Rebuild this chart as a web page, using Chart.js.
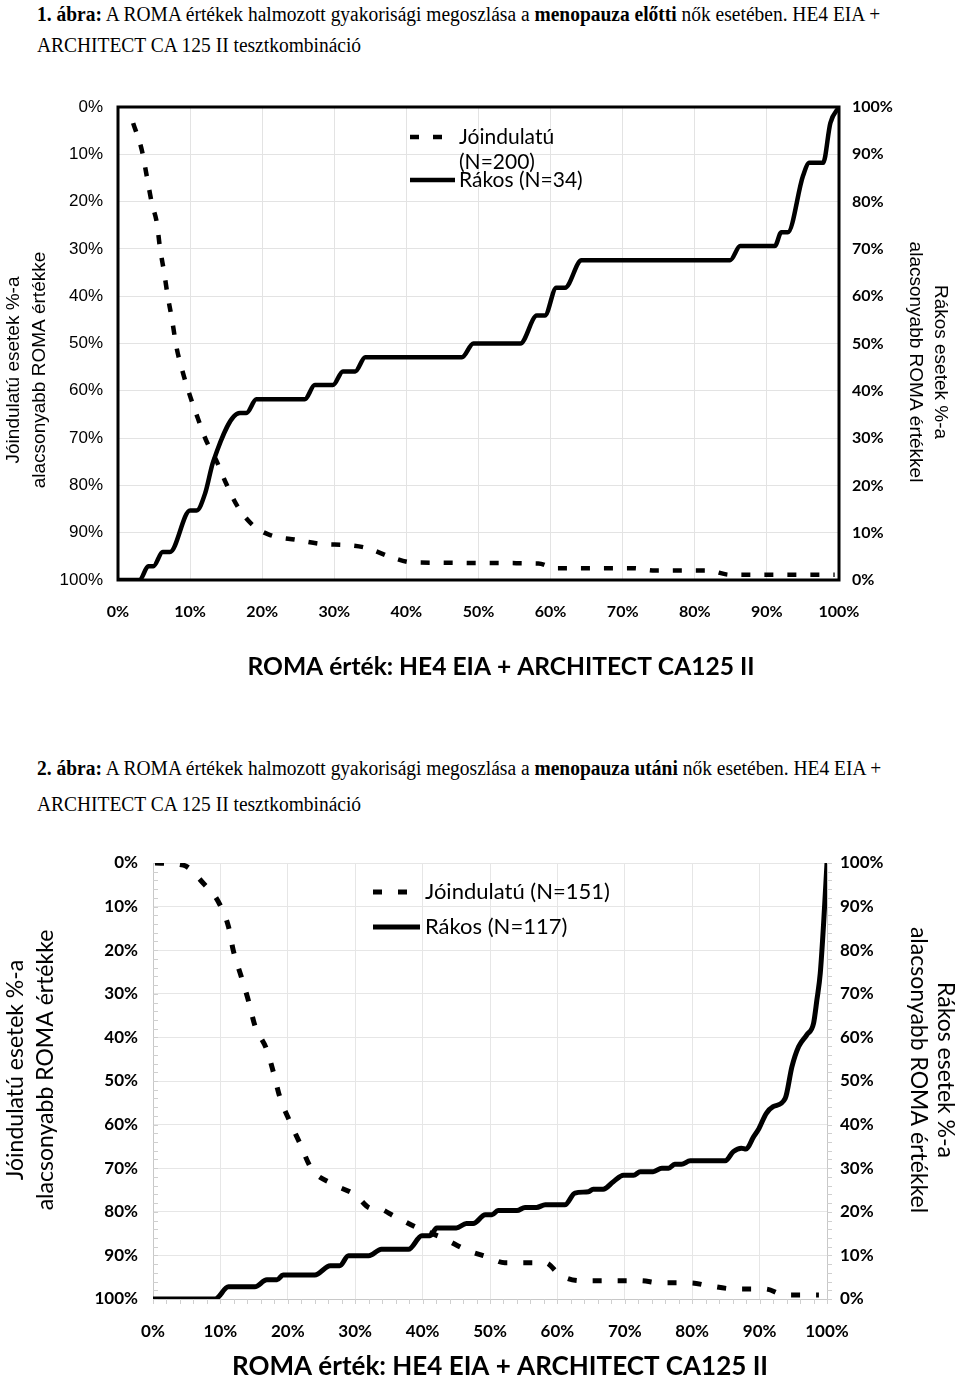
<!DOCTYPE html>
<html lang="hu">
<head>
<meta charset="utf-8">
<script src="https://cdn.jsdelivr.net/npm/chart.js@4.4.1/dist/chart.umd.min.js"></script>
<style>
html, body { margin: 0; padding: 0; background: #fff; overflow: hidden; }
body { width: 960px; height: 1381px; position: relative; }
.cap { position: absolute; left: 37px; font-family: "Liberation Serif", "Times New Roman", serif; font-size: 20px; line-height: 20px; white-space: nowrap; color: #000; transform-origin: 0 50%; }
.box { position: absolute; left: 0; width: 960px; }
</style>
</head>
<body>
<div class="cap" style="top:4px"><b>1. ábra:</b> A ROMA értékek halmozott gyakorisági megoszlása a <b>menopauza előtti</b> nők esetében. HE4 EIA +</div>
<div class="cap" style="top:35px">ARCHITECT CA 125 II tesztkombináció</div>
<div class="box" style="top:60px;height:631px"><canvas id="chart1"></canvas></div>

<div class="cap" style="top:758px"><b>2. ábra:</b> A ROMA értékek halmozott gyakorisági megoszlása a <b>menopauza utáni</b> nők esetében. HE4 EIA +</div>
<div class="cap" style="top:794px">ARCHITECT CA 125 II tesztkombináció</div>
<div class="box" style="top:835px;height:548px"><canvas id="chart2"></canvas></div>

<script>
// ---- data: 1. ábra (menopauza előtt) ----
const benign1Label = 'Jóindulatú (N=200)';
const benign1X = [2.1, 3.3, 4.0, 4.7, 5.4, 5.8, 6.4, 6.9, 7.5, 8.1, 8.9, 9.8, 11.0, 12.2, 13.6, 15.0, 16.6, 18.7, 21.1, 24.8, 28.4, 31.5, 34.4, 38.1, 40.9, 58.3, 60.6, 71.4, 74.5, 81.8, 84.9, 99.4];
const benign1Y = [3.4, 9.1, 14.7, 20.4, 24.6, 29.5, 35, 40, 45, 50.7, 55.6, 60.2, 65.5, 70.4, 74.6, 79.6, 84.5, 88.4, 90.5, 91.5, 92.4, 92.6, 93.2, 95.3, 96.3, 96.5, 97.5, 97.5, 98, 98, 98.9, 98.9];
const cancer1Label = 'Rákos (N=34)';
const cancer1X = [0, 3.0, 4.2, 4.9, 6.2, 7.2, 10.0, 10.9, 12.1, 13.2, 16.9, 17.8, 19.2, 25.9, 27.3, 29.8, 31.2, 32.9, 34.3, 47.7, 49.3, 55.8, 58.1, 59.2, 60.8, 62.0, 64.3, 84.9, 86.3, 91.1, 92.0, 92.9, 95.0, 95.9, 97.8, 98.8, 100];
const cancer1Y = [0, 0, 2.9, 2.9, 5.9, 5.9, 14.7, 14.7, 18.4, 25, 35.3, 35.3, 38.2, 38.2, 41.2, 41.2, 44.1, 44.1, 47.1, 47.1, 50, 50, 55.9, 55.9, 61.8, 61.8, 67.6, 67.6, 70.6, 70.6, 73.5, 73.5, 85.4, 88.2, 88.2, 96.6, 100];

// ---- data: 2. ábra (menopauza után) ----
const benign2Label = 'Jóindulatú (N=151)';
const benign2X = [0.3, 4.5, 7.5, 9.7, 11.2, 11.9, 13.1, 14.2, 15.1, 16.9, 17.9, 18.8, 20.3, 21.8, 23.5, 26.5, 30.0, 32.4, 33.2, 35.9, 39.4, 43.0, 46.6, 49.7, 52.2, 58.2, 60.4, 63.4, 72.3, 75.2, 79.7, 82.6, 86.4, 90.8, 93.8, 98.8];
const benign2Y = [0, 0.5, 4.7, 8.9, 14.6, 20, 26.1, 31.8, 37.2, 42.9, 48.2, 53.6, 59.3, 64.3, 70.1, 73.5, 76.1, 79.2, 79.2, 81.1, 83.8, 86.0, 88.8, 90.4, 91.7, 91.7, 94.5, 95.8, 95.8, 96.3, 96.3, 97.0, 97.7, 97.7, 99.1, 99.1];
const cancer2Label = 'Rákos (N=117)';
const cancer2X = [0, 9.2, 11.2, 15.1, 16.9, 18.4, 19.3, 24.0, 26.3, 27.7, 29.0, 32.0, 33.9, 37.9, 39.9, 41.1, 42.1, 45.0, 46.5, 47.5, 49.3, 50.3, 51.2, 54.0, 55.2, 56.9, 58.2, 61.1, 62.6, 64.6, 65.3, 66.8, 68.3, 69.8, 71.3, 72.3, 74.2, 75.5, 76.5, 77.4, 78.4, 79.7, 84.9, 86.1, 87.3, 88.0, 89.1, 89.8, 91.0, 92.0, 93.8, 94.8, 95.8, 97.0, 98.0, 98.5, 99.0, 99.5, 100];
const cancer2Y = [0, 0, 2.8, 2.8, 4.4, 4.4, 5.5, 5.5, 7.6, 7.6, 9.9, 9.9, 11.4, 11.4, 14.5, 14.5, 16.3, 16.3, 17.3, 17.3, 19.3, 19.3, 20.3, 20.3, 21, 21, 21.6, 21.6, 24.3, 24.6, 25.2, 25.2, 26.9, 28.4, 28.4, 29.2, 29.2, 30, 30, 30.9, 30.9, 31.7, 31.7, 33.8, 34.6, 34.4, 37.2, 38.8, 42.6, 44.1, 46, 53.3, 57.9, 60.6, 63.2, 68.6, 74.7, 86.2, 100];

const pctTicks = [0, 10, 20, 30, 40, 50, 60, 70, 80, 90, 100];
const xTitle = 'ROMA érték: HE4 EIA + ARCHITECT CA125 II';
const leftTitle = ['Jóindulatú esetek %-a', 'alacsonyabb ROMA értékke'];
const rightTitle = ['Rákos esetek %-a', 'alacsonyabb ROMA értékkel'];

// squeeze the captions to the width they have in the scan
(function () {
  const caps = document.querySelectorAll('.cap');
  const k = 843 / caps[0].scrollWidth;
  caps.forEach(c => c.style.transform = 'scaleX(' + k + ')');
})();

const pts = (xs, ys) => xs.map((x, i) => ({ x: x, y: ys[i] }));
const pct = v => v + '%';

const framePlugin = {
  id: 'frame',
  afterDatasetsDraw(chart, args, o) {
    if (!o.width) return;
    const a = chart.chartArea, ctx = chart.ctx;
    ctx.save();
    ctx.lineWidth = o.width;
    ctx.strokeStyle = o.color;
    ctx.strokeRect(a.left, a.top, a.right - a.left, a.bottom - a.top);
    ctx.restore();
  }
};

const minorTicksPlugin = {
  id: 'minorTicks',
  beforeDatasetsDraw(chart, args, o) {
    if (!o.step) return;
    const a = chart.chartArea, ctx = chart.ctx;
    const xs = chart.scales.x, ys = chart.scales.y;
    ctx.save();
    ctx.strokeStyle = o.color;
    ctx.lineWidth = 1;
    ctx.beginPath();
    for (let v = 0; v <= 100; v += o.step) {
      const px = Math.round(xs.getPixelForValue(v)) + 0.5;
      ctx.moveTo(px, a.bottom); ctx.lineTo(px, a.bottom + o.len);
      const py = Math.round(ys.getPixelForValue(v)) + 0.5;
      ctx.moveTo(a.left, py); ctx.lineTo(a.left + o.len, py);
      ctx.moveTo(a.right, py); ctx.lineTo(a.right + o.len, py);
    }
    ctx.stroke();
    ctx.restore();
  }
};

function wrapText(ctx, text, maxWidth) {
  const words = text.split(' ');
  const lines = [];
  let cur = '';
  words.forEach(w => {
    const test = cur ? cur + ' ' + w : w;
    if (cur && ctx.measureText(test).width > maxWidth) { lines.push(cur); cur = w; }
    else cur = test;
  });
  lines.push(cur);
  return lines;
}

const lineLegendPlugin = {
  id: 'lineLegend',
  afterDraw(chart, args, o) {
    const a = chart.chartArea, ctx = chart.ctx;
    ctx.save();
    ctx.font = o.font;
    ctx.fillStyle = '#000';
    ctx.textBaseline = 'middle';
    chart.data.datasets.forEach((ds, i) => {
      const x = a.left + o.x, y = a.top + o.y + i * o.gap;
      ctx.beginPath();
      ctx.setLineDash(ds.borderDash || []);
      ctx.lineWidth = ds.borderWidth;
      ctx.strokeStyle = ds.borderColor;
      ctx.moveTo(x, y);
      ctx.lineTo(x + o.sample, y);
      ctx.stroke();
      ctx.setLineDash([]);
      wrapText(ctx, ds.label, o.maxWidth).forEach((t, j) => {
        ctx.fillText(t, x + o.sample + o.textGap, y + j * o.lineGap);
      });
    });
    ctx.restore();
  }
};

const axisTitlesPlugin = {
  id: 'axisTitles',
  afterDraw(chart, args, o) {
    const ctx = chart.ctx;
    ctx.save();
    ctx.fillStyle = '#000';
    ctx.textAlign = 'center';
    ctx.textBaseline = 'middle';
    ctx.font = o.bottom.font;
    ctx.fillText(o.bottom.text, o.bottom.x, o.bottom.y);
    ctx.font = o.left.font;
    o.left.lines.forEach((t, i) => {
      ctx.save();
      ctx.translate(o.left.x + i * o.left.gap, o.left.y);
      ctx.rotate(-Math.PI / 2);
      ctx.fillText(t, 0, 0);
      ctx.restore();
    });
    ctx.font = o.right.font;
    o.right.lines.forEach((t, i) => {
      ctx.save();
      ctx.translate(o.right.x - i * o.right.gap, o.right.y);
      ctx.rotate(Math.PI / 2);
      ctx.fillText(t, 0, 0);
      ctx.restore();
    });
    ctx.restore();
  }
};

function makeChart(id, s) {
  return new Chart(document.getElementById(id), {
    type: 'line',
    data: {
      datasets: [
        {
          label: s.benignLabel,
          data: pts(s.benignX, s.benignY),
          yAxisID: 'y',
          borderColor: '#000',
          borderWidth: s.lw,
          borderDash: s.dash,
          pointRadius: 0,
          cubicInterpolationMode: 'monotone',
          fill: false
        },
        {
          label: s.cancerLabel,
          data: pts(s.cancerX, s.cancerY),
          yAxisID: 'y2',
          borderColor: '#000',
          borderWidth: s.lw,
          pointRadius: 0,
          cubicInterpolationMode: 'monotone',
          fill: false
        }
      ]
    },
    options: {
      responsive: true,
      maintainAspectRatio: false,
      animation: false,
      layout: { padding: { top: s.top, left: 0, right: 0, bottom: 0 } },
      plugins: {
        legend: { display: false },
        tooltip: { enabled: false },
        frame: s.frame,
        minorTicks: s.minor,
        lineLegend: s.legend,
        axisTitles: s.titles
      },
      scales: {
        x: {
          type: 'linear', min: 0, max: 100,
          afterBuildTicks: sc => { sc.ticks = pctTicks.map(v => ({ value: v })); },
          afterFit: sc => { sc.height = s.xHeight; },
          grid: { color: s.gridColor, drawTicks: false },
          border: s.border,
          ticks: { padding: s.xPad, color: '#000', font: s.xFont, callback: pct, maxRotation: 0 }
        },
        y: {
          position: 'left', reverse: true, min: 0, max: 100,
          afterBuildTicks: sc => { sc.ticks = pctTicks.map(v => ({ value: v })); },
          afterFit: sc => { sc.width = s.leftW; },
          grid: { color: s.gridColor, drawTicks: false },
          border: s.border,
          ticks: { padding: s.leftPad, color: '#000', font: s.leftFont, callback: pct }
        },
        y2: {
          position: 'right', min: 0, max: 100,
          afterBuildTicks: sc => { sc.ticks = pctTicks.map(v => ({ value: v })); },
          afterFit: sc => { sc.width = s.rightW; },
          grid: { drawOnChartArea: false, drawTicks: false },
          border: s.border,
          ticks: { padding: s.rightPad, color: '#000', font: s.rightFont, callback: pct }
        }
      }
    },
    plugins: [minorTicksPlugin, framePlugin, lineLegendPlugin, axisTitlesPlugin]
  });
}

makeChart('chart1', {
  benignLabel: benign1Label, benignX: benign1X, benignY: benign1Y,
  cancerLabel: cancer1Label, cancerX: cancer1X, cancerY: cancer1Y,
  lw: 4.5, dash: [9, 14],
  top: 47, xHeight: 111, leftW: 118, rightW: 121,
  gridColor: '#e3e3e3',
  border: { display: false },
  xPad: 22, leftPad: 15, rightPad: 13,
  xFont: { family: 'Lato', size: 16, weight: 'bold' },
  leftFont: { family: 'Liberation Sans', size: 17 },
  rightFont: { family: 'Lato', size: 16, weight: 'bold' },
  frame: { width: 3, color: '#000' },
  minor: { step: 0 },
  legend: { font: '21px Lato', x: 292, y: 30, gap: 43, lineGap: 25, sample: 45, textGap: 4, maxWidth: 130 },
  titles: {
    bottom: { text: xTitle, font: 'bold 24.6px Lato', x: 501, y: 607 },
    left: { lines: leftTitle, font: '19px "Liberation Sans"', x: 14, gap: 26, y: 310 },
    right: { lines: rightTitle, font: '19px "Liberation Sans"', x: 940, gap: 25, y: 302 }
  }
});

makeChart('chart2', {
  benignLabel: benign2Label, benignX: benign2X, benignY: benign2Y,
  cancerLabel: cancer2Label, cancerX: cancer2X, cancerY: cancer2Y,
  lw: 5, dash: [9, 16],
  top: 28, xHeight: 84, leftW: 153, rightW: 133,
  gridColor: '#e6e6e6',
  border: { display: true, color: '#c8c8c8', width: 1 },
  xPad: 22, leftPad: 15, rightPad: 13,
  xFont: { family: 'Lato', size: 17, weight: 'bold' },
  leftFont: { family: 'Lato', size: 17, weight: 'bold' },
  rightFont: { family: 'Lato', size: 17, weight: 'bold' },
  frame: { width: 0 },
  minor: { step: 2, len: 5, color: '#cfcfcf' },
  legend: { font: '22px Lato', x: 220, y: 29, gap: 35, lineGap: 26, sample: 47, textGap: 5, maxWidth: 400 },
  titles: {
    bottom: { text: xTitle, font: 'bold 26px Lato', x: 500, y: 532 },
    left: { lines: leftTitle, font: '23px Lato', x: 16, gap: 30, y: 235 },
    right: { lines: rightTitle, font: '23px Lato', x: 945, gap: 27, y: 235 }
  }
});
</script>
</body>
</html>
